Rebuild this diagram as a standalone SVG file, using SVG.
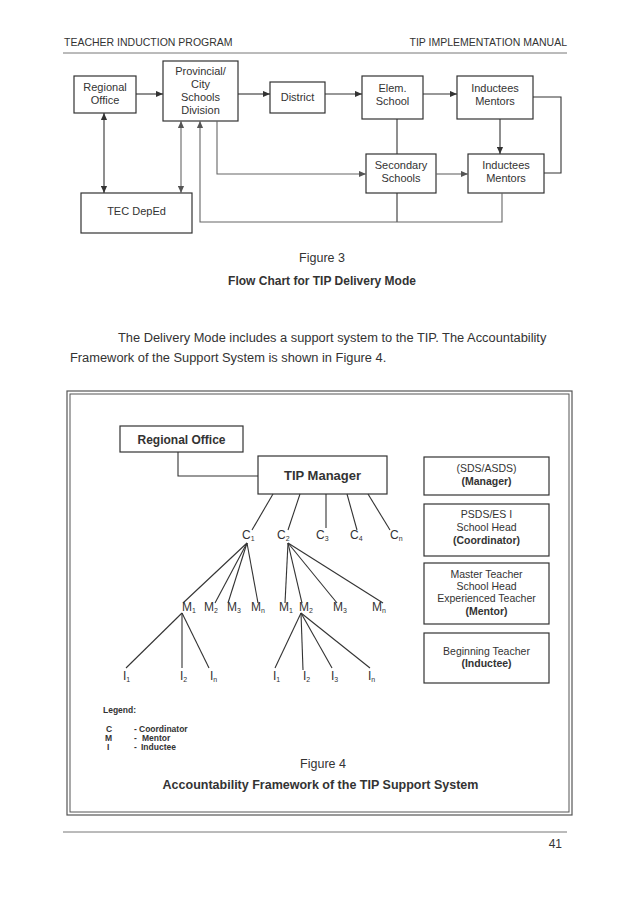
<svg xmlns="http://www.w3.org/2000/svg" width="638" height="903" viewBox="0 0 638 903">
<defs>
<marker id="ah" viewBox="0 0 8 8" refX="8" refY="4" markerWidth="7" markerHeight="7" orient="auto-start-reverse" markerUnits="userSpaceOnUse"><path d="M0,0.5 L8,4 L0,7.5 z" fill="#333"/></marker>
<marker id="ahg" viewBox="0 0 8 8" refX="8" refY="4" markerWidth="7" markerHeight="7" orient="auto-start-reverse" markerUnits="userSpaceOnUse"><path d="M0,0.5 L8,4 L0,7.5 z" fill="#555"/></marker>
<style>
text{font-family:"Liberation Sans",Arial,sans-serif;fill:#333}
.b{fill:#fff;stroke:#333;stroke-width:1.2}
.l{fill:none;stroke:#333;stroke-width:1.1}
.g{fill:none;stroke:#666;stroke-width:1.1}
.t11{font-size:11px;text-anchor:middle}
.t10{font-size:10.5px;text-anchor:middle}
.bd{font-weight:bold}
.lab{font-size:12px}
.sub{font-size:7px}
.lg{font-size:8.5px;font-weight:bold}
</style>
</defs>
<rect width="638" height="903" fill="#fff"/>
<!-- header -->
<text x="64" y="46" font-size="10.5">TEACHER INDUCTION PROGRAM</text>
<text x="567" y="46" font-size="10.5" text-anchor="end">TIP IMPLEMENTATION MANUAL</text>
<line x1="63" y1="53" x2="567" y2="53" stroke="#777" stroke-width="1"/>

<!-- Figure 3 nodes -->
<g id="f3-regional"><rect class="b" x="74" y="76" width="62" height="37"/><text class="t11" x="105" y="91">Regional</text><text class="t11" x="105" y="104">Office</text></g>
<g id="f3-provincial"><rect class="b" x="163" y="61" width="75" height="60"/><text class="t11" x="200.5" y="75">Provincial/</text><text class="t11" x="200.5" y="88">City</text><text class="t11" x="200.5" y="101">Schools</text><text class="t11" x="200.5" y="114">Division</text></g>
<g id="f3-district"><rect class="b" x="270" y="82" width="55" height="31"/><text class="t11" x="297.5" y="101">District</text></g>
<g id="f3-elem"><rect class="b" x="362" y="76" width="61" height="43"/><text class="t11" x="392.5" y="92">Elem.</text><text class="t11" x="392.5" y="105">School</text></g>
<g id="f3-ind1"><rect class="b" x="457" y="76" width="76" height="43"/><text class="t11" x="495" y="92">Inductees</text><text class="t11" x="495" y="105">Mentors</text></g>
<g id="f3-secondary"><rect class="b" x="366" y="154" width="70" height="39"/><text class="t11" x="401" y="169">Secondary</text><text class="t11" x="401" y="182">Schools</text></g>
<g id="f3-ind2"><rect class="b" x="468" y="154" width="76" height="39"/><text class="t11" x="506" y="169">Inductees</text><text class="t11" x="506" y="182">Mentors</text></g>
<g id="f3-tec"><rect class="b" x="81" y="193" width="111" height="40"/><text class="t11" x="136.5" y="215">TEC DepEd</text></g>

<!-- Figure 3 connectors -->
<g id="f3-connectors">
<line class="l" x1="136" y1="94" x2="163" y2="94" marker-end="url(#ah)"/>
<line class="l" x1="238" y1="94" x2="270" y2="94" marker-end="url(#ah)"/>
<line class="l" x1="325" y1="94" x2="362" y2="94" marker-end="url(#ah)"/>
<line class="l" x1="423" y1="94" x2="457" y2="94" marker-end="url(#ah)"/>
<line class="l" x1="500" y1="119" x2="500" y2="154" marker-end="url(#ah)"/>
<polyline class="l" points="533,97 561,97 561,173 544,173"/>
<line class="l" x1="397" y1="119" x2="397" y2="154"/>
<line class="g" x1="436" y1="174" x2="468" y2="174" marker-end="url(#ahg)"/>
<polyline class="g" points="217,121 217,174 366,174" marker-end="url(#ahg)"/>
<line class="l" x1="397" y1="193" x2="397" y2="222"/>
<polyline class="g" points="502,193 502,222 200,222 200,121" marker-end="url(#ahg)"/>
<line class="l" x1="104" y1="113" x2="104" y2="193" marker-start="url(#ah)" marker-end="url(#ah)"/>
<line class="g" x1="181" y1="121" x2="181" y2="193" marker-start="url(#ahg)" marker-end="url(#ahg)"/>
</g>

<text x="322" y="262" font-size="12.5" text-anchor="middle">Figure 3</text>
<text x="322" y="285" font-size="12" font-weight="bold" text-anchor="middle">Flow Chart for TIP Delivery Mode</text>

<text x="118" y="342" font-size="12.85">The Delivery Mode includes a support system to the TIP. The Accountability</text>
<text x="70" y="362" font-size="12.85">Framework of the Support System is shown in Figure 4.</text>

<!-- Figure 4 frame -->
<rect x="67" y="391" width="505" height="424" fill="none" stroke="#555" stroke-width="1.2"/>
<rect x="70" y="394" width="499" height="418" fill="none" stroke="#555" stroke-width="1"/>

<g id="f4-regional"><rect class="b" x="120" y="426" width="123" height="26"/><text x="181.5" y="443.5" font-size="12" font-weight="bold" text-anchor="middle">Regional Office</text></g>
<g id="f4-manager"><rect class="b" x="258" y="456" width="129" height="38"/><text x="322.5" y="480" font-size="13" font-weight="bold" text-anchor="middle">TIP Manager</text></g>

<g id="f4-k1"><rect class="b" x="424" y="457" width="125" height="38"/><text class="t10" x="486.5" y="472">(SDS/ASDS)</text><text class="t10 bd" x="486.5" y="485">(Manager)</text></g>
<g id="f4-k2"><rect class="b" x="424" y="504" width="125" height="52"/><text class="t10" x="486.5" y="518">PSDS/ES I</text><text class="t10" x="486.5" y="531">School Head</text><text class="t10 bd" x="486.5" y="544">(Coordinator)</text></g>
<g id="f4-k3"><rect class="b" x="424" y="563" width="125" height="61"/><text class="t10" x="486.5" y="578">Master Teacher</text><text class="t10" x="486.5" y="590">School Head</text><text class="t10" x="486.5" y="602">Experienced Teacher</text><text class="t10 bd" x="486.5" y="615">(Mentor)</text></g>
<g id="f4-k4"><rect class="b" x="424" y="633" width="125" height="50"/><text class="t10" x="486.5" y="655">Beginning Teacher</text><text class="t10 bd" x="486.5" y="667">(Inductee)</text></g>

<!-- tree labels -->
<g id="f4-c">
<text class="lab" x="242" y="539">C<tspan class="sub" dy="2">1</tspan></text>
<text class="lab" x="277" y="539">C<tspan class="sub" dy="2">2</tspan></text>
<text class="lab" x="316" y="539">C<tspan class="sub" dy="2">3</tspan></text>
<text class="lab" x="350" y="539">C<tspan class="sub" dy="2">4</tspan></text>
<text class="lab" x="390" y="539">C<tspan class="sub" dy="2">n</tspan></text>
</g>
<g id="f4-m">
<text class="lab" x="182" y="611">M<tspan class="sub" dy="2">1</tspan></text>
<text class="lab" x="204" y="611">M<tspan class="sub" dy="2">2</tspan></text>
<text class="lab" x="227" y="611">M<tspan class="sub" dy="2">3</tspan></text>
<text class="lab" x="251" y="611">M<tspan class="sub" dy="2">n</tspan></text>
<text class="lab" x="279" y="611">M<tspan class="sub" dy="2">1</tspan></text>
<text class="lab" x="299" y="611">M<tspan class="sub" dy="2">2</tspan></text>
<text class="lab" x="333" y="611">M<tspan class="sub" dy="2">3</tspan></text>
<text class="lab" x="372" y="611">M<tspan class="sub" dy="2">n</tspan></text>
</g>
<g id="f4-i">
<text class="lab" x="123" y="680">I<tspan class="sub" dy="2">1</tspan></text>
<text class="lab" x="180" y="680">I<tspan class="sub" dy="2">2</tspan></text>
<text class="lab" x="210" y="680">I<tspan class="sub" dy="2">n</tspan></text>
<text class="lab" x="273" y="680">I<tspan class="sub" dy="2">1</tspan></text>
<text class="lab" x="303" y="680">I<tspan class="sub" dy="2">2</tspan></text>
<text class="lab" x="331" y="680">I<tspan class="sub" dy="2">3</tspan></text>
<text class="lab" x="368" y="680">I<tspan class="sub" dy="2">n</tspan></text>
</g>

<!-- Figure 4 connectors -->
<g id="f4-connectors" class="l" fill="none" stroke="#333" stroke-width="1">
<polyline points="178,452 178,476 258,476"/>
<line x1="273" y1="494" x2="252" y2="530"/>
<line x1="300" y1="494" x2="288" y2="530"/>
<line x1="326" y1="494" x2="326" y2="528"/>
<line x1="347" y1="494" x2="357" y2="530"/>
<line x1="368" y1="494" x2="390" y2="530"/>
<line x1="247" y1="543" x2="183" y2="603"/>
<line x1="247" y1="543" x2="215" y2="603"/>
<line x1="247" y1="543" x2="228" y2="603"/>
<line x1="247" y1="543" x2="258" y2="603"/>
<line x1="288" y1="543" x2="285" y2="603"/>
<line x1="288" y1="543" x2="302" y2="603"/>
<line x1="288" y1="543" x2="337" y2="603"/>
<line x1="288" y1="543" x2="383" y2="603"/>
<line x1="182" y1="613" x2="126" y2="668"/>
<line x1="182" y1="613" x2="182" y2="668"/>
<line x1="182" y1="613" x2="209" y2="668"/>
<line x1="301" y1="613" x2="275" y2="668"/>
<line x1="301" y1="613" x2="303" y2="670"/>
<line x1="301" y1="613" x2="332" y2="668"/>
<line x1="301" y1="613" x2="370" y2="668"/>
</g>

<!-- legend -->
<text class="lg" x="103" y="713">Legend:</text>
<text class="lg" x="106" y="732">C</text><text class="lg" x="134" y="732">-</text><text class="lg" x="139" y="732">Coordinator</text>
<text class="lg" x="105" y="741">M</text><text class="lg" x="134" y="741">-</text><text class="lg" x="142" y="741">Mentor</text>
<text class="lg" x="107" y="750">I</text><text class="lg" x="134" y="750">-</text><text class="lg" x="141" y="750">Inductee</text>

<text x="323" y="768" font-size="12.5" text-anchor="middle">Figure 4</text>
<text x="320.5" y="789" font-size="12.5" font-weight="bold" text-anchor="middle">Accountability Framework of the TIP Support System</text>

<!-- footer -->
<line x1="63" y1="832" x2="567" y2="832" stroke="#777" stroke-width="1"/>
<text x="562" y="848" font-size="12" text-anchor="end">41</text>
</svg>
